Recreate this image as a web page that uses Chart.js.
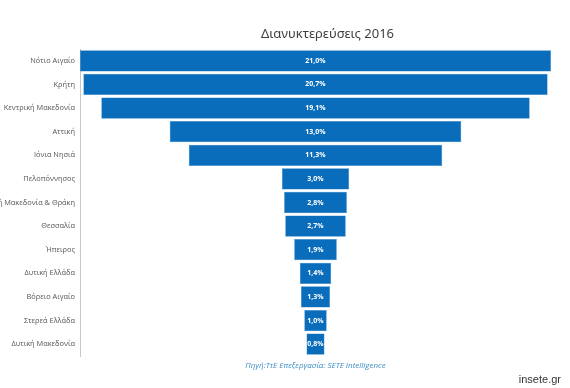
<!DOCTYPE html>
<html>
<head>
  <meta charset="UTF-8">
  <title>Διανυκτερεύσεις 2016</title>
  <script src="https://cdn.jsdelivr.net/npm/chart.js"></script>
  <style>
    body {
      margin: 0;
      background: #fff;
    }
    #wrap {
      position: relative;
      width: 570px;
      height: 388px;
    }
    #brand {
      position: absolute;
      right: 9px;
      bottom: 3px;
      font-family: "Liberation Sans", Arial, sans-serif;
      font-size: 11px;
      color: #333;
    }
  </style>
</head>
<body>
  <div id="wrap">
    <canvas id="funnel" width="570" height="388"></canvas>
    <div id="brand">insete.gr</div>
  </div>

  <script>
    const regions = [
      'Νότιο Αιγαίο', 'Κρήτη', 'Κεντρική Μακεδονία', 'Αττική', 'Ιόνια Νησιά',
      'Πελοπόννησος', 'Ανατολική Μακεδονία & Θράκη', 'Θεσσαλία', 'Ήπειρος',
      'Δυτική Ελλάδα', 'Βόρειο Αιγαίο', 'Στερεά Ελλάδα', 'Δυτική Μακεδονία'
    ];
    const shares = [21.0, 20.7, 19.1, 13.0, 11.3, 3.0, 2.8, 2.7, 1.9, 1.4, 1.3, 1.0, 0.8];

    const titleText = 'Διανυκτερεύσεις 2016';
    const sourceText = 'Πηγή:ΤτΕ Επεξεργασία: SETE Intelligence';

    // funnel: each bar floats symmetric around zero
    const spans = shares.map(v => [-v / 2, v / 2]);

    const captions = {
      id: 'captions',
      afterDraw(chart) {
        const ctx = chart.ctx;
        const area = chart.chartArea;
        const mid = (area.left + area.right) / 2;
        ctx.save();
        ctx.textAlign = 'center';
        ctx.textBaseline = 'alphabetic';

        ctx.fillStyle = '#3f3f3f';
        ctx.font = '13px "Noto Sans", sans-serif';
        ctx.fillText(titleText, mid + 12, 38);

        ctx.fillStyle = '#3b8fc4';
        ctx.font = 'italic 8px "Open Sans", sans-serif';
        ctx.fillText(sourceText, mid, 368);

        // value labels inside bars
        ctx.fillStyle = '#fff';
        ctx.font = 'bold 7px "Open Sans", sans-serif';
        ctx.textBaseline = 'middle';
        chart.getDatasetMeta(0).data.forEach((bar, i) => {
          const label = shares[i].toFixed(1).replace('.', ',') + '%';
          ctx.fillText(label, (bar.x + bar.base) / 2, bar.y);
        });
        ctx.restore();
      }
    };

    new Chart(document.getElementById('funnel'), {
      type: 'bar',
      data: {
        labels: regions,
        datasets: [{
          data: spans,
          backgroundColor: '#0a6dbb',
          borderColor: '#3088c8',
          borderWidth: 0.5,
          borderSkipped: false,
          barPercentage: 0.9,
          categoryPercentage: 1.0
        }]
      },
      options: {
        indexAxis: 'y',
        responsive: false,
        animation: false,
        layout: {
          padding: { top: 49, right: 19, bottom: 32, left: 0 }
        },
        plugins: {
          legend: { display: false },
          title: { display: false },
          tooltip: { enabled: false }
        },
        scales: {
          x: {
            display: false,
            min: -10.5,
            max: 10.5
          },
          y: {
            grid: { display: false, drawTicks: false },
            border: { display: true, color: '#c8c8c8', width: 1 },
            ticks: {
              color: '#555',
              padding: 5,
              font: { family: '"Open Sans", sans-serif', size: 7.4 }
            },
            afterFit(scale) {
              scale.width = 80;
            }
          }
        }
      },
      plugins: [captions]
    });
  </script>
</body>
</html>
